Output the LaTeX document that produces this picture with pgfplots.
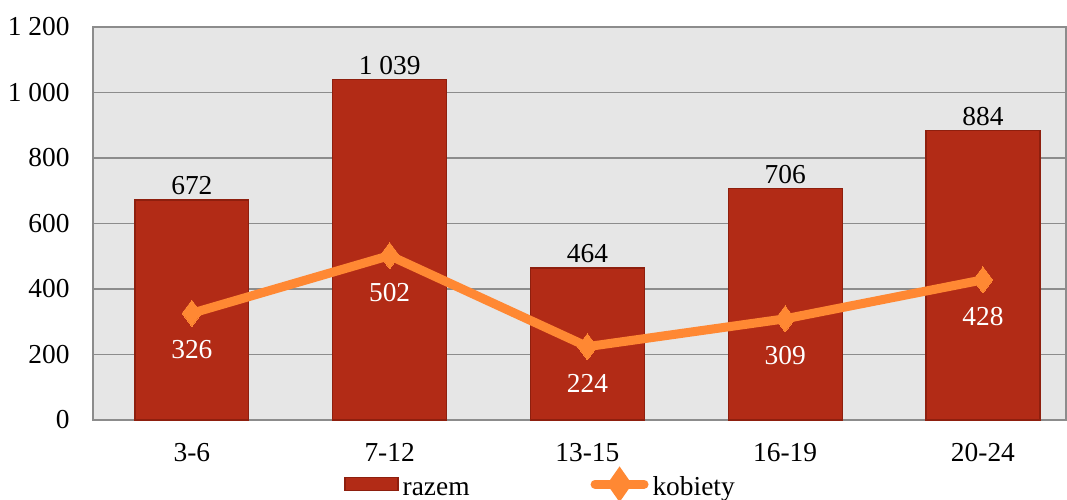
\documentclass[border=0pt]{standalone}
\usepackage{fontspec}
\setmainfont{Liberation Serif}
\usepackage{pgfplots}
\pgfplotsset{compat=1.18}
\definecolor{barred}{HTML}{B22B16}
\definecolor{baredge}{HTML}{8E1F0E}
\definecolor{lineor}{HTML}{FF8833}
\definecolor{bggray}{HTML}{E6E6E6}
\definecolor{gridgray}{HTML}{8C8C8C}
\begin{document}
\fontsize{13.7}{16.5}\selectfont
\begin{tikzpicture}
\begin{axis}[name=ax, scale only axis, width=486.5pt, height=196.5pt,
  xmin=-0.5, xmax=4.42, ymin=0, ymax=1200,
  axis background/.style={fill=bggray},
  axis line style={gridgray, line width=0.9pt},
  ytick={0,200,...,1200}, yticklabels={0,200,400,600,800,1 000,1 200},
  xtick={0,...,4}, xticklabels={3-6,7-12,13-15,16-19,20-24},
  major tick length=0pt,
  ymajorgrids, grid style={gridgray, line width=0.9pt},
  y tick label style={inner sep=0pt, xshift=-11.5pt},
  x tick label style={inner sep=0pt, yshift=-11.5pt},
  legend columns=2,
  legend style={at={(rel axis cs:0.258,-0.1725)}, anchor=west, draw=none, fill=none, inner sep=0pt,
    nodes={text height=0.7em, text depth=0.22em},
    /tikz/every even column/.append style={column sep=58.5pt}},
]
\addplot[ybar, bar width=0.576, fill=barred, draw=baredge, line width=0.6pt,
  point meta=explicit symbolic, nodes near coords,
  every node near coord/.append style={black, inner sep=0pt, yshift=2.25pt},
  legend image code/.code={\draw[fill=barred,draw=baredge,line width=0.6pt] (0pt,-0.75pt) rectangle (26.5pt,5.75pt);}]
  coordinates {(0,672)[672] (1,1039)[1 039] (2,464)[464] (3,706)[706] (4,884)[884]};
\addlegendentry{razem}
\addplot[lineor, line width=4.5pt, mark=diamond*, mark size=6.5pt,
  mark options={solid, fill=lineor, draw=lineor, line width=0pt},
  point meta=explicit symbolic, nodes near coords,
  every node near coord/.append style={white, inner sep=0pt, yshift=-23pt},
  legend image code/.code={\draw[lineor, line width=4.5pt, line cap=round] (2.25pt,2.5pt) -- (26.75pt,2.5pt);
    \fill[lineor] (14.5pt,7.5pt) -- (18pt,2.5pt) -- (14.5pt,-2.5pt) -- (11pt,2.5pt) -- cycle;}]
  coordinates {(0,326)[326] (1,502)[502] (2,224)[224] (3,309)[309] (4,428)[428]};
\addlegendentry{kobiety}
\end{axis}
\pgfresetboundingbox
\path[use as bounding box] ([shift={(-46.5pt,-39.5pt)}]ax.south west) rectangle ([shift={(0.5pt,13.5pt)}]ax.north east);
\end{tikzpicture}
\end{document}
